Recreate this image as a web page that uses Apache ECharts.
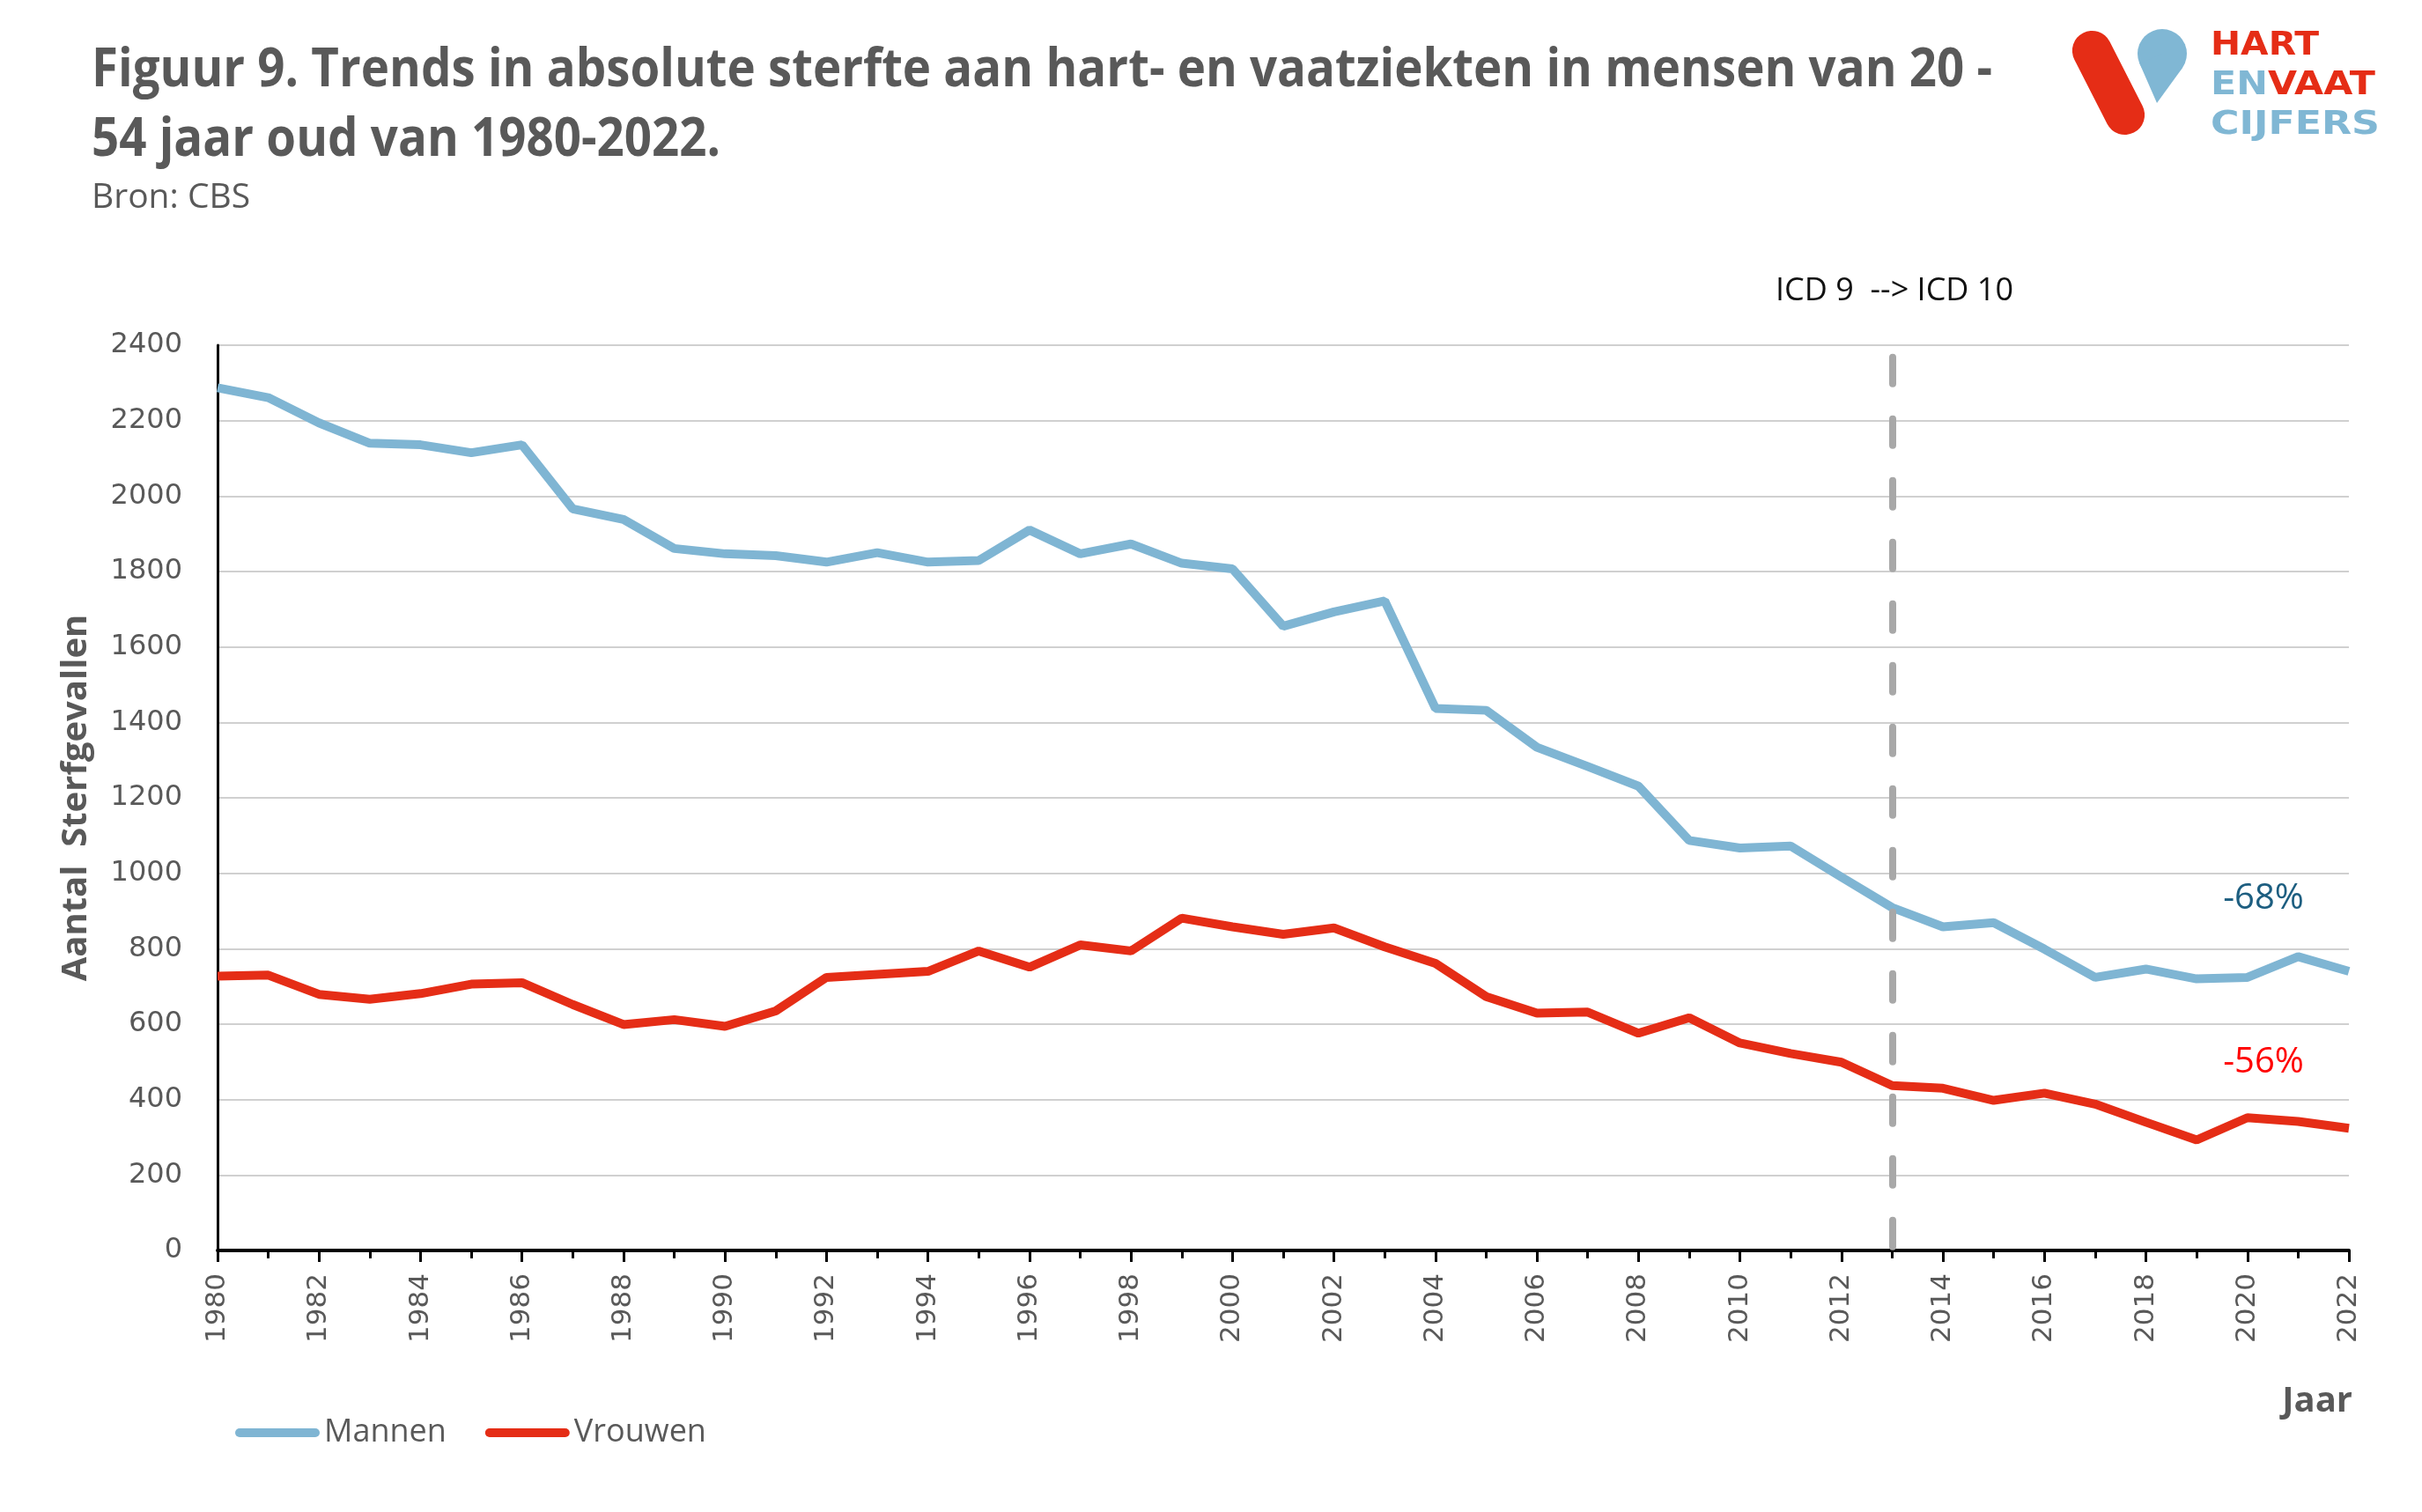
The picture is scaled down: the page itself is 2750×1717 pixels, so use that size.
<!DOCTYPE html>
<html>
<head>
<meta charset="utf-8">
<script src="https://cdn.jsdelivr.net/npm/echarts@6/dist/echarts.min.js"></script>
<style>
html,body{margin:0;padding:0;background:#fff;}
#chart{width:2750px;height:1717px;}
</style>
</head>
<body>
<div id="chart"></div>
<script>
// ---- data ----
const years = [1980,1981,1982,1983,1984,1985,1986,1987,1988,1989,1990,1991,1992,1993,1994,1995,1996,1997,1998,1999,2000,2001,2002,2003,2004,2005,2006,2007,2008,2009,2010,2011,2012,2013,2014,2015,2016,2017,2018,2019,2020,2021,2022];
const mannen = [2287,2261,2194,2140,2136,2115,2136,1966,1938,1861,1847,1842,1825,1850,1825,1829,1910,1847,1873,1822,1807,1655,1693,1722,1437,1432,1334,1283,1231,1087,1067,1072,990,909,858,869,799,724,746,720,724,779,740];
const vrouwen = [727,730,679,666,681,706,710,652,599,612,594,635,724,732,740,794,751,810,794,881,858,838,855,805,761,673,629,632,576,617,550,522,499,437,430,398,417,388,340,293,352,342,324];
const seriesNames = ['Mannen','Vrouwen'];
const yTicks = {min:0, max:2400, interval:200};
const xTicks = {min:1980, max:2022, interval:2};
const icdYear = 2013;
const icdTop = 2368;
const titleLine1 = 'Figuur 9. Trends in absolute sterfte aan hart- en vaatziekten in mensen van 20 -';
const titleLine2 = '54 jaar oud van 1980-2022.';
const subtitle = 'Bron: CBS';
const yAxisName = 'Aantal  Sterfgevallen';
const xAxisName = 'Jaar';
const icdLabel = 'ICD 9  --> ICD 10';
const pctMannen = '-68%';
const pctVrouwen = '-56%';

const BLUE = '#7fb5d3';
const RED = '#e52d16';
const GREY = '#595959';

function measure(text, font){
  const c = document.createElement('canvas').getContext('2d');
  c.font = font;
  return c.measureText(text).width;
}
// font sizes fitted to the reference's label widths
const xLabelSize = Math.round(30 * 79 / measure('1980', '30px "DejaVu Sans"'));
const yLabelSize = Math.round(30 * 81 / measure('2400', '30px "DejaVu Sans"'));
const titleFont = 'bold 60px "Open Sans"';
const titleScale = 2158 / measure(titleLine1, titleFont);
const logoFont = 'bold 38px "DejaVu Sans"';

const chart = echarts.init(document.getElementById('chart'));
const option = {
  animation: false,
  backgroundColor: '#fff',
  grid: {left: 247, right: 83, top: 392, bottom: 297},
  legend: {
    data: seriesNames,
    left: 262, top: 1604,
    itemWidth: 96, itemHeight: 10, itemGap: 44,
    icon: 'path://M5,0 L91,0 A5,5 0 0 1 91,10 L5,10 A5,5 0 0 1 5,0 Z',
    textStyle: {fontFamily: 'Open Sans', fontSize: 36, color: GREY}
  },
  xAxis: {
    type: 'value', min: xTicks.min, max: xTicks.max, interval: xTicks.interval,
    axisLine: {lineStyle: {color: '#000', width: 4}},
    axisTick: {show: true, length: 13, lineStyle: {color: '#000', width: 3}},
    minorTick: {show: true, splitNumber: 2, length: 9, lineStyle: {color: '#000', width: 3}},
    splitLine: {show: false}, minorSplitLine: {show: false},
    axisLabel: {rotate: 90, margin: 26, fontFamily: '"DejaVu Sans"', fontSize: xLabelSize, color: GREY,
      formatter: v => String(v)}
  },
  yAxis: {
    type: 'value', min: yTicks.min, max: yTicks.max, interval: yTicks.interval,
    axisLine: {show: true, lineStyle: {color: '#000', width: 3}},
    axisTick: {show: false},
    splitLine: {lineStyle: {color: '#d0d0d0', width: 2}},
    axisLabel: {margin: 40, fontFamily: '"DejaVu Sans"', fontSize: yLabelSize, color: GREY,
      formatter: v => String(v)},
    name: yAxisName, nameLocation: 'middle', nameGap: 140,
    nameTextStyle: {fontFamily: 'Open Sans', fontWeight: 'bold', fontSize: 40, color: GREY}
  },
  series: [
    {
      name: seriesNames[0], type: 'line', symbol: 'none', color: BLUE,
      lineStyle: {width: 10, color: BLUE},
      data: years.map((y,i) => [y, mannen[i]]),
      markLine: {
        silent: true, symbol: 'none', label: {show: false},
        lineStyle: {color: '#a8a8a8', width: 8, type: [30, 40], cap: 'round'},
        data: [[{coord: [icdYear, icdTop]}, {coord: [icdYear, 0]}]]
      }
    },
    {
      name: seriesNames[1], type: 'line', symbol: 'none', color: RED,
      lineStyle: {width: 10, color: RED},
      data: years.map((y,i) => [y, vrouwen[i]])
    }
  ],
  graphic: [
    {type: 'text', x: 104, y: 81, scaleX: titleScale,
      style: {text: titleLine1, font: titleFont, fill: GREY, textAlign: 'left', textVerticalAlign: 'middle'}},
    {type: 'text', x: 104, y: 160, scaleX: titleScale,
      style: {text: titleLine2, font: titleFont, fill: GREY, textAlign: 'left', textVerticalAlign: 'middle'}},
    {type: 'text', x: 104, y: 225,
      style: {text: subtitle, font: '39px "Open Sans"', fill: GREY, textAlign: 'left', textVerticalAlign: 'middle'}},
    {type: 'text', x: 2151, y: 331,
      style: {text: icdLabel, font: '36px "Open Sans"', fill: '#111', textAlign: 'center', textVerticalAlign: 'middle'}},
    {type: 'text', x: 2570, y: 1021,
      style: {text: pctMannen, font: '40px "Open Sans"', fill: '#1d5e80', textAlign: 'center', textVerticalAlign: 'middle'}},
    {type: 'text', x: 2570, y: 1207,
      style: {text: pctVrouwen, font: '40px "Open Sans"', fill: '#ff0000', textAlign: 'center', textVerticalAlign: 'middle'}},
    {type: 'text', x: 2671, y: 1592,
      style: {text: xAxisName, font: 'bold 40px "Open Sans"', fill: GREY, textAlign: 'right', textVerticalAlign: 'middle'}},
    // logo
    {type: 'rect', x: 2394, y: 94, rotation: 27 * Math.PI / 180,
      shape: {x: -22.5, y: -63.5, width: 45, height: 127, r: 22.5},
      style: {fill: RED}},
    {type: 'circle', shape: {cx: 2455, cy: 61, r: 28}, style: {fill: '#80b7d4'}},
    {type: 'polygon', shape: {points: [[2449,117],[2429.4,72.3],[2455,61],[2477.7,77.4]]}, style: {fill: '#80b7d4'}},
    {type: 'text', x: 2510, y: 52, scaleX: 123 / measure('HART', logoFont),
      style: {text: 'HART', font: logoFont, fill: RED, textAlign: 'left', textVerticalAlign: 'middle'}},
    {type: 'text', x: 2510, y: 97, scaleX: 187 / measure('ENVAAT', logoFont),
      style: {text: '{a|EN}{b|VAAT}', font: logoFont, textAlign: 'left', textVerticalAlign: 'middle',
        rich: {a: {fill: '#80b7d4', font: logoFont}, b: {fill: RED, font: logoFont}}}},
    {type: 'text', x: 2510, y: 142, scaleX: 192 / measure('CIJFERS', logoFont),
      style: {text: 'CIJFERS', font: logoFont, fill: '#80b7d4', textAlign: 'left', textVerticalAlign: 'middle'}}
  ]
};
chart.setOption(option);
</script>
</body>
</html>
